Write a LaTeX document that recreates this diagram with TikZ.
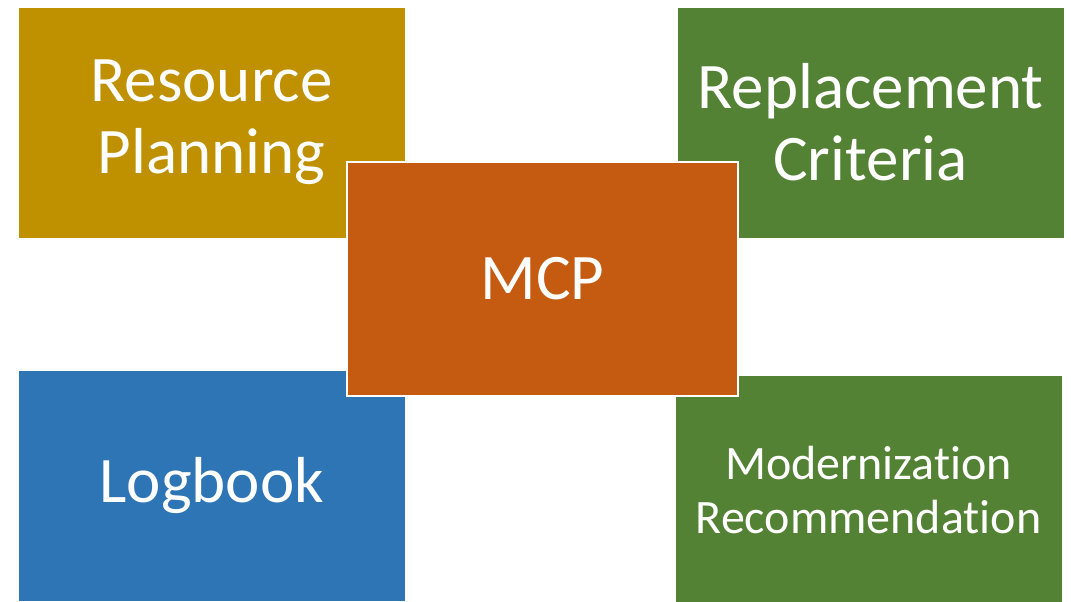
\documentclass[tikz,border=0pt]{standalone}
\usepackage{fontspec}
\setmainfont{Carlito}[RawFeature=-liga]
\definecolor{rpgold}{HTML}{BF9000}
\definecolor{rcgreen}{HTML}{548235}
\definecolor{mcporange}{HTML}{C55A11}
\definecolor{lbblue}{HTML}{2E75B6}
\begin{document}
\begin{tikzpicture}[x=1pt, y=-1pt, box/.style = {draw=white, line width=0.8pt, fill=#1, text=white, minimum width=387pt, minimum height=231pt, inner sep=0pt, align=center, font=\fontsize{65}{72}\selectfont}, core/.style = {box=mcporange, line width=2pt, minimum width=391pt, minimum height=234pt}]
                \useasboundingbox (0,0) rectangle (1071,602);
                \node[box=rpgold] (rp) at (211.7,122.5) {Resource\\Planning};
                \node[box=rcgreen] (rc) at (870.5,122.5) {Replacement\\Criteria};
                \node[box=lbblue] (lb) at (211.7,485.5) {Logbook};
                \node[box=rcgreen, font=\fontsize{48}{54}\selectfont] (mr) at (868.5,490.5) {Modernization\\Recommendation};
                \node[core] (mcp) at (542.5,279) {MCP};
            \end{tikzpicture}
\end{document}
